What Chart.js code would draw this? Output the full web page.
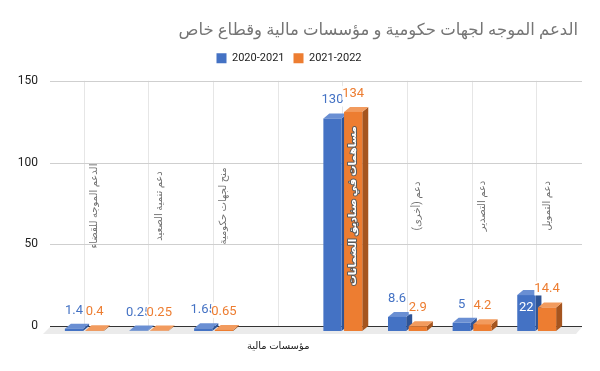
<!DOCTYPE html>
<html lang="ar">
<head>
  <meta charset="UTF-8">
  <title>الدعم الموجه</title>
  <style>
    body { margin: 0; background: #fff; }
    #wrap { width: 600px; height: 371px; }
  </style>
  <script src="https://cdn.jsdelivr.net/npm/chart.js"></script>
</head>
<body>
  <div id="wrap"><canvas id="grafico"></canvas></div>

  <script>
    const titleText = 'الدعم الموجه لجهات حكومية و مؤسسات مالية وقطاع خاص';
    const categories = [
      'الدعم الموجه للقضاء', 'دعم تنمية الصعيد', 'منح لجهات حكومية', 'مؤسسات مالية',
      'مساهمات في صناديق الضمانات', 'دعم (أخرى)', 'دعم التصدير', 'دعم التمويل'
    ];
    const seriesNames = ['2020-2021', '2021-2022'];
    const values2021 = [1.4, 0.25, 1.65, null, 130, 8.6, 5, 22];
    const values2022 = [0.4, 0.25, 0.65, null, 134, 2.9, 4.2, 14.4];
    const yTicks = [0, 50, 100, 150];

    const FONT = "Roboto, 'DejaVu Sans', sans-serif";
    const caras = [
      { front: '#4472c4', top: '#6a8fd3', side: '#2f5496', label: '#4472c4' },
      { front: '#ed7d31', top: '#f29b5e', side: '#a5551f', label: '#ed7d31' }
    ];

    function poly(ctx, pts, color) {
      ctx.beginPath();
      ctx.moveTo(pts[0][0], pts[0][1]);
      for (let k = 1; k < pts.length; k++) ctx.lineTo(pts[k][0], pts[k][1]);
      ctx.closePath();
      ctx.fillStyle = color;
      ctx.fill();
    }

    // barras en 3D, piso, rejilla horizontal y etiquetas
    const barras3d = {
      id: 'barras3d',
      beforeDatasetsDraw(chart) {
        const { ctx, chartArea: a, scales: { y } } = chart;
        const dx = 6, dz = 5, dy = 5;
        ctx.save();

        yTicks.forEach(v => {
          const py = Math.round(y.getPixelForValue(v)) + 0.5;
          ctx.strokeStyle = v === 0 ? '#333' : '#cfcfcf';
          ctx.lineWidth = 1;
          ctx.beginPath();
          ctx.moveTo(a.left - 2, py);
          ctx.lineTo(a.right + 13, py);
          ctx.stroke();
        });

        const y0 = Math.round(y.getPixelForValue(0)) + 1;
        poly(ctx, [[a.left - 2, y0], [a.right + 13, y0], [a.right + 7, y0 + 7], [a.left - 9, y0 + 7]], '#ebebeb');

        const metas = [0, 1].map(d => chart.getDatasetMeta(d));
        const etiquetas = [];
        categories.forEach((c, i) => {
          metas.forEach((meta, d) => {
            const val = chart.data.datasets[d].data[i];
            if (val === null || val === undefined) return;
            const el = meta.data[i].getProps(['x', 'y', 'base', 'width'], true);
            const L = el.x - el.width / 2, R = el.x + el.width / 2;
            const T = el.y + dy, B = el.base + dy;
            const col = caras[d];
            poly(ctx, [[R, T], [R + dx, T - dz], [R + dx, B - dz], [R, B]], col.side);
            poly(ctx, [[L, T], [L + dx, T - dz], [R + dx, T - dz], [R, T]], col.top);
            ctx.fillStyle = col.front;
            ctx.fillRect(L, T, el.width, B - T);
            etiquetas.push({ d, i, val, x: el.x, T });
          });
        });

        // valores
        ctx.font = '13px ' + FONT;
        ctx.textAlign = 'center';
        ctx.textBaseline = 'alphabetic';
        etiquetas.forEach(e => {
          const txt = String(e.val);
          if (e.d === 0 && e.i === 7) {
            ctx.fillStyle = '#fff';
            ctx.fillText(txt, e.x, e.T + 16);
            return;
          }
          const w = ctx.measureText(txt).width;
          ctx.fillStyle = '#fff';
          ctx.fillRect(e.x - w / 2, e.T - 26, w, 14);
          ctx.fillStyle = caras[e.d].label;
          ctx.fillText(txt, e.x, e.T - 15);
        });

        // nombres rotados
        categories.forEach((c, i) => {
          if (i === 3) return;
          const cx = metas[1].data[i].x;
          ctx.save();
          ctx.translate(cx, 206);
          ctx.rotate(-Math.PI / 2);
          ctx.direction = 'rtl';
          ctx.textAlign = 'center';
          ctx.textBaseline = 'middle';
          if (i === 4) {
            ctx.font = 'bold 10.5px ' + FONT;
            ctx.lineJoin = 'round';
            ctx.lineWidth = 2;
            ctx.strokeStyle = '#5a5a5a';
            ctx.strokeText(c, 0, 0);
            ctx.fillStyle = '#fff';
            ctx.fillText(c, 0, 0);
          } else {
            ctx.font = '10px ' + FONT;
            ctx.fillStyle = '#707070';
            ctx.fillText(c, 0, 0);
          }
          ctx.restore();
        });

        ctx.restore();
        return false;
      }
    };

    new Chart(document.getElementById('grafico'), {
      type: 'bar',
      data: {
        labels: categories,
        datasets: [
          { label: seriesNames[0], data: values2021, backgroundColor: caras[0].front,
            barPercentage: 0.88, categoryPercentage: 0.64 },
          { label: seriesNames[1], data: values2022, backgroundColor: caras[1].front,
            barPercentage: 0.88, categoryPercentage: 0.64 }
        ]
      },
      options: {
        responsive: true,
        maintainAspectRatio: false,
        animation: false,
        layout: { padding: { top: 13, right: 22, left: 0, bottom: 0 } },
        plugins: {
          title: {
            display: true, text: titleText, align: 'end', color: '#757575',
            font: { size: 16.5, family: FONT, weight: 'normal' },
            padding: { top: 8, bottom: 3 }
          },
          legend: {
            position: 'top',
            labels: { boxWidth: 10, boxHeight: 10, padding: 9, color: '#222',
                      font: { size: 11, family: FONT } }
          },
          tooltip: { enabled: false }
        },
        scales: {
          x: {
            grid: { offset: false, color: '#e6e6e6', drawTicks: false },
            border: { display: false },
            ticks: {
              padding: 14, color: '#222', autoSkip: false, maxRotation: 0,
              font: { size: 10, family: FONT },
              callback: (v, i) => i === 3 ? categories[i] : ''
            },
            afterFit(s) { s.height = 45; }
          },
          xTop: {
            type: 'category', position: 'top',
            grid: { display: false, drawTicks: false },
            border: { display: false },
            ticks: { display: false },
            afterFit(s) { s.height = 7; }
          },
          y: {
            min: 0, max: 150,
            ticks: { stepSize: 50, padding: 14, color: '#222', font: { size: 12, family: FONT } },
            grid: { display: false, drawTicks: false },
            border: { display: false },
            afterFit(s) { s.width = 52; }
          },
          yRight: {
            type: 'linear', position: 'right',
            grid: { display: false, drawTicks: false },
            border: { display: false },
            ticks: { display: false },
            afterFit(s) { s.width = 9; }
          }
        }
      },
      plugins: [barras3d]
    });
  </script>
</body>
</html>
